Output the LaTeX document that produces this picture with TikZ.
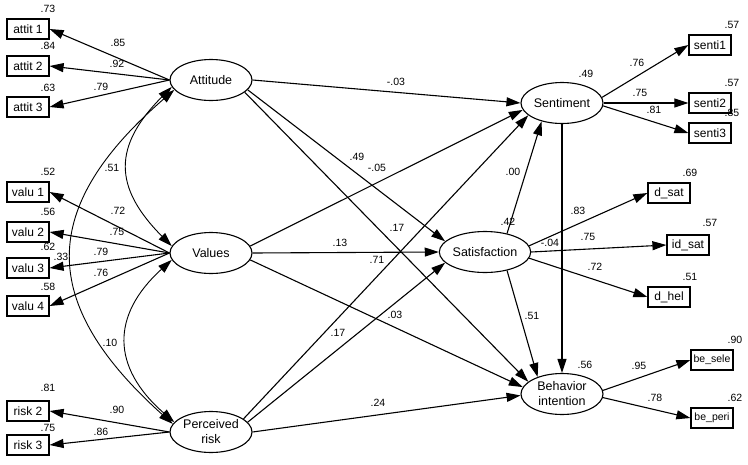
\documentclass[tikz,border=0pt]{standalone}
\usepackage{fontspec}
\setmainfont{Liberation Sans}
\usetikzlibrary{arrows.meta,shapes.geometric}
\tikzset{
  latent/.style={draw,ellipse,line width=1.1pt,minimum width=82pt,
    minimum height=41pt,inner sep=0pt,align=center,
    font=\fontsize{12.5}{15}\selectfont},
  obs/.style={draw,rectangle,line width=1.2pt,minimum width=42pt,
    minimum height=20pt,inner sep=0pt,font=\fontsize{12}{14}\selectfont},
  num/.style={inner sep=0pt,font=\fontsize{10.5}{12}\selectfont},
  eff/.style={->,line width=1.1pt},
  cov/.style={<->,line width=0.9pt}
}
\begin{document}
\begin{tikzpicture}[x=1pt,y=-1pt,>={Triangle[length=14pt,width=9pt]}]
  \useasboundingbox (0,0) rectangle (748,464);
  % latent variables
  \node[latent] (att) at (211,80) {Attitude};
  \node[latent] (val) at (211,253) {Values};
  \node[latent] (per) at (211,432) {Perceived\\risk};
  \node[latent] (sen) at (562,103) {Sentiment};
  \node[latent] (sat) at (485,252) {Satisfaction};
  \node[latent] (beh) at (562,394) {Behavior\\intention};
  % indicators
  \foreach \n/\t/\y in {a1/attit 1/29,a2/attit 2/66,a3/attit 3/107,
    v1/valu 1/192,v2/valu 2/232,v3/valu 3/268,v4/valu 4/306,
    r2/risk 2/411,r3/risk 3/445}{
    \node[obs] (\n) at (28,\y) {\t};
  }
  \foreach \n/\t/\x/\y in {s1/senti1/710/45,s2/senti2/710/103,
    s3/senti3/710/133,ds/d\_sat/669/193,is/id\_sat/688/245,
    dh/d\_hel/669/297}{
    \node[obs] (\n) at (\x,\y) {\t};
  }
  \node[obs,font=\fontsize{10.5}{12}\selectfont] (bs) at (712,360) {be\_sele};
  \node[obs,font=\fontsize{10.5}{12}\selectfont] (bp) at (712,418) {be\_peri};
  % loadings
  \foreach \l/\b in {att/a1,att/a2,att/a3,val/v1,val/v2,val/v3,val/v4,
    per/r2,per/r3}{
    \draw[eff] (\l.west) -- (\b.east);
  }
  \draw[eff] (sen.8) -- (s1.west);
  \draw[eff] (sen.east) -- (s2.west);
  \draw[eff] (sen.-4) -- (s3.west);
  \draw[eff] (sat.8) -- (ds.west);
  \draw[eff] (sat.east) -- (is.west);
  \draw[eff] (sat.-8) -- (dh.west);
  \draw[eff] (beh.5) -- (bs.west);
  \draw[eff] (beh.-5) -- (bp.west);
  % structural paths
  \draw[eff] (att.east) -- (sen.west);
  \draw[eff] (att.-15) -- (sat.165);
  \draw[eff] (att.-20) -- (beh.160);
  \draw[eff] (val.10) -- (sen.190);
  \draw[eff] (val.east) -- (sat.west);
  \draw[eff] (val.-10) -- (beh.170);
  \draw[eff] (per.22) -- (sen.200);
  \draw[eff] (per.15) -- (sat.195);
  \draw[eff] (per.east) -- (beh.182);
  \draw[eff] (sat.40) -- (sen.222);
  \draw[eff] (sat.-40) -- (beh.145);
  \draw[eff] (sen.south) -- (beh.north);
  % correlations
  \draw[cov] (att.190) .. controls (113,146) and (113,187) .. (val.170);
  \draw[cov] (val.190) .. controls (111,315) and (111,367) .. (per.165);
  \draw[cov] (att.195) .. controls (38,208) and (38,303) .. (per.168);
  % estimates
  \foreach \t/\x/\y [count=\i] in {.73/48/9,.84/48/46,.63/48/88,
    .52/48/172,.56/48/212,.62/48/247,.33/61/257,.58/48/287,
    .81/48/388,.75/48/428,
    .85/118/43,.92/117/64,.79/101/87,.72/118/211,.75/117/232,
    .79/101/252,.76/101/273,.90/117/410,.86/101/432,
    .51/112/168,.10/110/343,
    -.03/396/82,.49/357/157,-.05/377/168,.17/397/228,.13/340/243,
    .71/377/260,.03/395/315,.17/338/333,.24/378/403,
    .00/513/172,-.04/550/243,.51/532/316,
    .49/586/74,.42/508/222,.56/585/365,
    .76/637/63,.75/640/93,.81/654/110,.57/732/25,.57/732/83,
    .85/732/113,
    .83/578/211,.75/588/237,.72/595/267,.69/690/173,.57/710/223,
    .51/690/277,
    .95/639/366,.78/655/398,.90/735/340,.62/735/398}{
    \node[num] (w\i) at (\x,\y) {\t};
  }
\end{tikzpicture}
\end{document}
